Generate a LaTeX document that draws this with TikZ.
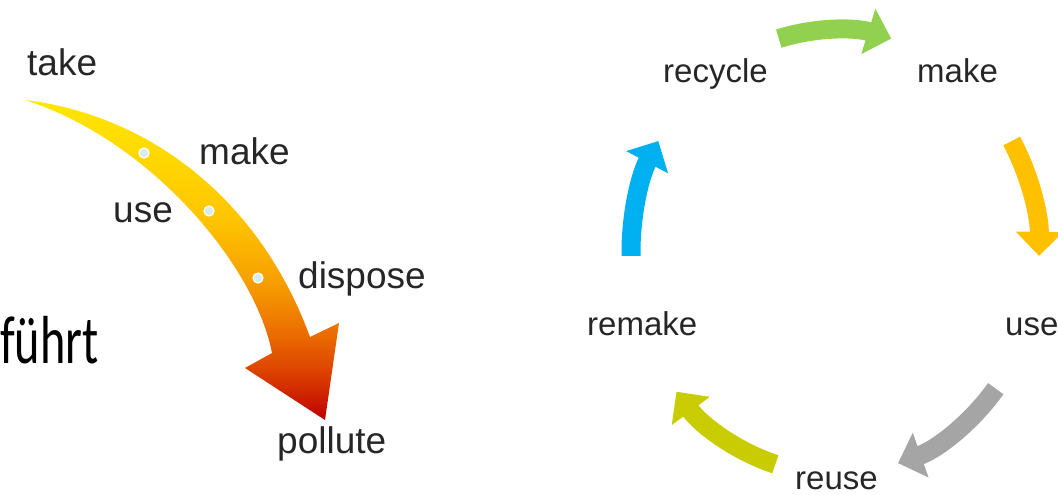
\documentclass[tikz,border=0pt]{standalone}
\usepackage{fontspec}
\setmainfont{Liberation Sans}
\newfontfamily\calibfont{Carlito}
\usetikzlibrary{arrows.meta}
\definecolor{txt}{HTML}{262626}
\definecolor{cgreen}{HTML}{92D050}
\definecolor{corange}{HTML}{FFC000}
\definecolor{cgray}{HTML}{A5A5A5}
\definecolor{colive}{HTML}{C8CC00}
\definecolor{cblue}{HTML}{00B0F0}
\definecolor{sa}{HTML}{C00000}
\definecolor{sb}{HTML}{DD4400}
\definecolor{sc}{HTML}{EC7000}
\definecolor{sd}{HTML}{F7A000}
\definecolor{se}{HTML}{FFC400}
\definecolor{sf}{HTML}{FFDA00}
\definecolor{sg}{HTML}{FFE600}
\definecolor{dotc}{HTML}{D6EBF2}
\pgfdeclareverticalshading{flowshade}{100bp}{color(0bp)=(sa); color(25bp)=(sa); color(32.8bp)=(sb); color(39bp)=(sc); color(46.9bp)=(sd); color(56.25bp)=(se); color(67.2bp)=(sf); color(75bp)=(sg); color(100bp)=(sg)}
\begin{document}
\begin{tikzpicture}[x=1pt,y=1pt,
  lbl/.style={anchor=base west, inner sep=0pt, text=txt, font=\fontsize{37}{40}\selectfont},
  rlbl/.style={anchor=base west, inner sep=0pt, text=txt, font=\fontsize{33}{36}\selectfont},
  cyc/.style={line width=19pt, -{Triangle[width=46pt,length=24pt]}},
  waydot/.style={circle, fill=dotc, draw=white, line width=1.2pt, minimum size=10pt, inner sep=0pt}]
\useasboundingbox (0,0) rectangle (1058,-495);
% left: linear flow
\shade[shading=flowshade] (25,-100) .. controls (150,-115) and (260,-200) .. (310,-337)
  -- (339,-323) -- (325,-420) -- (245,-368) -- (272,-353)
  .. controls (255,-265) and (150,-140) .. (25,-100) -- cycle;
\node[waydot] (d1) at (144,-153) {};
\node[waydot] (d2) at (209,-211) {};
\node[waydot] (d3) at (258,-278) {};
\node[lbl] (take) at (27,-75) {take};
\node[lbl] (lmake) at (199,-164) {make};
\node[lbl] (luse) at (113,-222) {use};
\node[lbl] (dispose) at (298,-288) {dispose};
\node[lbl] (pollute) at (277,-453) {pollute};
\node[anchor=base west, inner sep=0pt, xscale=0.71, font=\calibfont\fontsize{68}{72}\selectfont] (fuehrt) at (0,-363) {führt};
% right: circular flow
\coordinate (C) at (835,-252);
\draw[cyc, cgreen]  (C) ++(106:204 and 222) arc[start angle=106, end angle=74, x radius=204, y radius=222];
\draw[cyc, corange] (C) ++(30:204 and 222) arc[start angle=30, end angle=-1, x radius=204, y radius=222];
\draw[cyc, cgray]   (C) ++(-38:204 and 222) arc[start angle=-38, end angle=-72, x radius=204, y radius=222];
\draw[cyc, colive]  (C) ++(-107:204 and 222) arc[start angle=-107, end angle=-141, x radius=204, y radius=222];
\draw[cyc, cblue]   (C) ++(181:204 and 222) arc[start angle=181, end angle=150, x radius=204, y radius=222];
\node[rlbl] (recycle) at (663,-82) {recycle};
\node[rlbl] (rmake) at (917,-82) {make};
\node[rlbl] (ruse) at (1005,-335) {use};
\node[rlbl] (remake) at (587,-335) {remake};
\node[rlbl] (reuse) at (795,-489) {reuse};
\end{tikzpicture}
\end{document}
